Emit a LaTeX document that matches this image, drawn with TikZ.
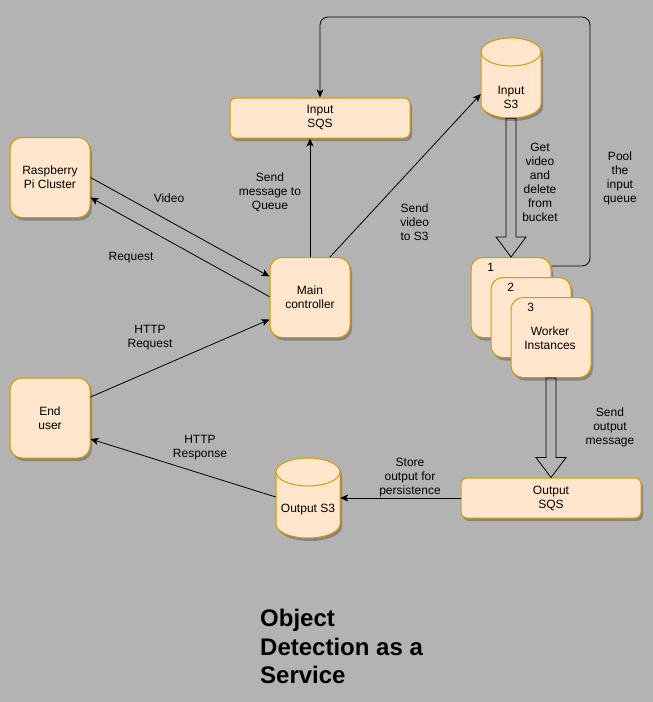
\documentclass[tikz,border=0pt]{standalone}
\usepackage{fontspec}
\setmainfont{Liberation Sans}
\usetikzlibrary{arrows.meta,calc,shadows}
\definecolor{bgc}{HTML}{B3B3B3}
\definecolor{boxfill}{HTML}{FFE6CC}
\definecolor{boxdraw}{HTML}{D79B00}
\tikzset{
  box/.style={draw=boxdraw,fill=boxfill,line width=1pt,inner sep=0pt,align=center,
    font=\fontsize{12}{14}\selectfont,
    drop shadow={shadow xshift=2pt,shadow yshift=-3pt,opacity=0.25,fill=black}},
  sqbox/.style={box,minimum width=80pt,minimum height=80pt,rounded corners=12pt},
  widebox/.style={box,minimum width=180pt,minimum height=40pt,rounded corners=6pt},
  anchorbox/.style={inner sep=0pt,minimum width=#1,minimum height=80pt},
  conn/.style={line width=0.8pt,-{Stealth[length=8pt,width=7pt,inset=2pt]}},
  plain/.style={line width=0.8pt},
  lbl/.style={align=center,font=\fontsize{12}{14}\selectfont,inner sep=0pt},
  cyl/.style={draw=boxdraw,fill=boxfill,line width=1pt},
  blockarr/.style={draw=black,line width=0.8pt,line join=miter},
}
\begin{document}
\begin{tikzpicture}[x=1pt,y=-1pt]
\useasboundingbox (0,0) rectangle (653,702);
\fill[bgc] (0,0) rectangle (653,702);

% rectangle nodes
\node[sqbox] (rpi) at (50,177.5) {Raspberry\\Pi Cluster};
\node[widebox] (isqs) at (320,118) {Input\\SQS};
\node[sqbox] (main) at (310,297.5) {Main\\controller};
\node[sqbox] (eu) at (50,418) {End\\user};
\node[widebox] (osqs) at (551,498) {Output\\SQS};
\node[sqbox] (w1) at (511,297.5) {};
\node[sqbox] (w2) at (531,317.5) {};
\node[sqbox] (w3) at (551,337.5) {};
\node[lbl] at (490.7,267.3) {1};
\node[lbl] at (510.7,287.3) {2};
\node[lbl] at (530.7,307.3) {3};
\node[lbl] at (550,337.8) {Worker\\Instances};

% cylinders
\fill[black,opacity=0.25,shift={(2,3)}] (481,52) -- (481,104) arc[start angle=180,end angle=360,x radius=30pt,y radius=14pt] -- (541,52) arc[start angle=0,end angle=180,x radius=30pt,y radius=14pt] -- cycle;
\path[cyl] (481,52) -- (481,104) arc[start angle=180,end angle=360,x radius=30pt,y radius=14pt] -- (541,52) arc[start angle=0,end angle=180,x radius=30pt,y radius=14pt] -- cycle;
\draw[boxdraw,line width=1pt] (481,52) arc[start angle=180,end angle=360,x radius=30pt,y radius=14pt];
\node[anchorbox=60pt] (ins3) at (511,78) {};
\node[lbl] at (511,97.7) {Input\\S3};

\fill[black,opacity=0.25,shift={(2,3)}] (276,472) -- (276,524) arc[start angle=180,end angle=360,x radius=32pt,y radius=14pt] -- (340,472) arc[start angle=0,end angle=180,x radius=32pt,y radius=14pt] -- cycle;
\path[cyl] (276,472) -- (276,524) arc[start angle=180,end angle=360,x radius=32pt,y radius=14pt] -- (340,472) arc[start angle=0,end angle=180,x radius=32pt,y radius=14pt] -- cycle;
\draw[boxdraw,line width=1pt] (276,472) arc[start angle=180,end angle=360,x radius=32pt,y radius=14pt];
\node[anchorbox=64pt] (os3) at (308,498) {};
\node[lbl] at (308,510) {Output S3};

% connectors
\draw[conn] (rpi.east) -- ([yshift=21pt]main.west);
\draw[conn] ([yshift=0.8pt]main.west) -- ([yshift=-20pt]rpi.east);
\draw[conn] (main.north) -- (main.north |- isqs.south);
\draw[conn] ([xshift=20pt]main.north) -- ([yshift=-16pt]ins3.west);
\draw[conn] ([yshift=21pt]eu.east) -- ([yshift=-22pt]main.west);
\draw[conn] ([yshift=1pt]os3.west) -- ([yshift=-21pt]eu.east);
\draw[conn] (osqs.west) -- (os3.east);
\coordinate (poolc) at (590,17);
\draw[conn,rounded corners=8pt] ([yshift=31.5pt]w1.east) -| (poolc) -| (isqs.north);

% block arrows
\draw[blockarr] ($(ins3.south)+(-5,0)$) -- ($(w1.north)+(-5,-20)$) -- ($(w1.north)+(-15,-20)$) -- (w1.north) -- ($(w1.north)+(15,-20)$) -- ($(w1.north)+(5,-20)$) -- ($(ins3.south)+(5,0)$) -- cycle;
\draw[blockarr] ($(w3.south)+(-5,0)$) -- ($(osqs.north)+(-5,-20)$) -- ($(osqs.north)+(-15,-20)$) -- (osqs.north) -- ($(osqs.north)+(15,-20)$) -- ($(osqs.north)+(5,-20)$) -- ($(w3.south)+(5,0)$) -- cycle;

% labels
\node[lbl] at (169,198) {Video};
\node[lbl] at (131,258) {Request};
\node[lbl] at (270,192.7) {Send\\message to\\Queue};
\node[lbl] at (414.6,222.7) {Send\\video\\to S3};
\node[lbl] at (540,182.7) {Get\\video\\and\\delete\\from\\bucket};
\node[lbl] at (620,178) {Pool\\the\\input\\queue};
\node[lbl] at (150,337.7) {HTTP\\Request};
\node[lbl] at (200,447.7) {HTTP\\Response};
\node[lbl] at (410,477.7) {Store\\output for\\persistence};
\node[lbl] at (610,427.7) {Send\\output\\message};

% title
\node[anchor=west,align=left,inner sep=0pt,font=\fontsize{24}{28.5}\selectfont\bfseries] (title) at (260,646.5) {Object\\Detection as a\\Service};
\end{tikzpicture}
\end{document}
